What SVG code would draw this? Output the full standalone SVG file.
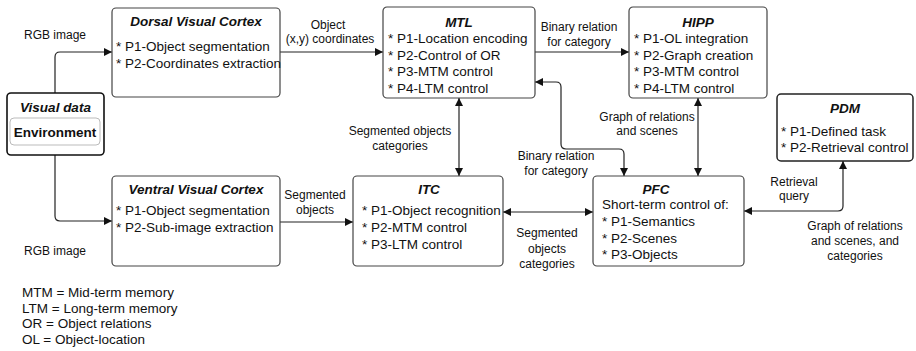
<svg xmlns="http://www.w3.org/2000/svg" width="916" height="351" viewBox="0 0 916 351">
<defs>
<marker id="ah" viewBox="0 0 10 10" refX="10" refY="5" markerWidth="8" markerHeight="8" markerUnits="userSpaceOnUse" orient="auto-start-reverse">
<path d="M0,0 L10,5 L0,10 z" fill="#111"/>
</marker>
<style>
.box{fill:#fff;stroke:#444;stroke-width:1.2}
.t{font-family:"Liberation Sans",Arial,sans-serif;font-size:13.5px;fill:#111}
.h{font-family:"Liberation Sans",Arial,sans-serif;font-size:13.5px;font-weight:bold;font-style:italic;fill:#111;text-anchor:middle}
.l{font-family:"Liberation Sans",Arial,sans-serif;font-size:12px;fill:#111;text-anchor:middle}
.g{font-family:"Liberation Sans",Arial,sans-serif;font-size:13.5px;fill:#111}
.c{fill:none;stroke:#222;stroke-width:1.2}
</style>
</defs>
<rect width="916" height="351" fill="#fff"/>

<g id="connectors">
<path class="c" d="M55,93 V57 Q55,52 60,52 H112" marker-end="url(#ah)"/>
<path class="c" d="M55,155 V216 Q55,221 60,221 H112" marker-end="url(#ah)"/>
<path class="c" d="M280,52 H383" marker-end="url(#ah)"/>
<path class="c" d="M535,52 H629" marker-end="url(#ah)"/>
<path class="c" d="M280,222 H353" marker-end="url(#ah)"/>
<path class="c" d="M459,98 V176" marker-start="url(#ah)" marker-end="url(#ah)"/>
<path class="c" d="M503,212 H593" marker-start="url(#ah)" marker-end="url(#ah)"/>
<path class="c" d="M698,98 V176" marker-start="url(#ah)" marker-end="url(#ah)"/>
<path class="c" d="M535,82 H556 Q561,82 561,87 V144 Q561,149 566,149 H619 Q624,149 624,154 V176" marker-start="url(#ah)" marker-end="url(#ah)"/>
<path class="c" d="M744,211 H838 Q843,211 843,206 V161" marker-start="url(#ah)" marker-end="url(#ah)"/>
<text class="l" x="55" y="39">RGB image</text>
<text class="l" x="55" y="255">RGB image</text>
<text class="l" x="328" y="29">Object</text>
<text class="l" x="330" y="43">(x,y) coordinates</text>
<text class="l" x="579" y="31">Binary relation</text>
<text class="l" x="579" y="46">for category</text>
<text class="l" x="400" y="135">Segmented objects</text>
<text class="l" x="400" y="150">categories</text>
<text class="l" x="647" y="121">Graph of relations</text>
<text class="l" x="647" y="135">and scenes</text>
<text class="l" x="556" y="160">Binary relation</text>
<text class="l" x="556" y="175">for category</text>
<text class="l" x="315" y="199">Segmented</text>
<text class="l" x="315" y="214">objects</text>
<text class="l" x="547" y="237">Segmented</text>
<text class="l" x="547" y="253">objects</text>
<text class="l" x="547" y="268">categories</text>
<text class="l" x="794" y="186">Retrieval</text>
<text class="l" x="794" y="200">query</text>
<text class="l" x="855" y="230">Graph of relations</text>
<text class="l" x="855" y="245">and scenes, and</text>
<text class="l" x="855" y="260">categories</text>
</g>

<g id="visual-data">
<rect x="7" y="93" width="97" height="62" rx="4" fill="#fff" stroke="#111" stroke-width="1.6"/>
<text class="h" x="55.5" y="112">Visual data</text>
<rect x="10" y="118" width="90" height="27" rx="4" fill="#fff" stroke="#bbb" stroke-width="1"/>
<text class="t" x="55" y="137" text-anchor="middle" font-weight="bold">Environment</text>
</g>

<g id="dorsal">
<rect class="box" x="112" y="8" width="168" height="89" rx="4"/>
<text class="h" x="196" y="26">Dorsal Visual Cortex</text>
<text class="t" x="116" y="50.5">* P1-Object segmentation</text>
<text class="t" x="116" y="68">* P2-Coordinates extraction</text>
</g>

<g id="mtl">
<rect class="box" x="383" y="7" width="152" height="91" rx="4"/>
<text class="h" x="459" y="27">MTL</text>
<text class="t" x="388" y="43">* P1-Location encoding</text>
<text class="t" x="388" y="59.5">* P2-Control of OR</text>
<text class="t" x="388" y="76">* P3-MTM control</text>
<text class="t" x="388" y="92.5">* P4-LTM control</text>
</g>

<g id="hipp">
<rect class="box" x="629" y="7" width="138" height="91" rx="4"/>
<text class="h" x="698" y="27">HIPP</text>
<text class="t" x="634" y="43">* P1-OL integration</text>
<text class="t" x="634" y="59.5">* P2-Graph creation</text>
<text class="t" x="634" y="76">* P3-MTM control</text>
<text class="t" x="634" y="92.5">* P4-LTM control</text>
</g>

<g id="pdm">
<rect x="777" y="94" width="136" height="67" rx="4" fill="#fff" stroke="#222" stroke-width="1.5"/>
<text class="h" x="845" y="113">PDM</text>
<text class="t" x="781" y="136">* P1-Defined task</text>
<text class="t" x="781" y="152">* P2-Retrieval control</text>
</g>

<g id="ventral">
<rect class="box" x="112" y="176" width="168" height="90" rx="4"/>
<text class="h" x="196" y="194">Ventral Visual Cortex</text>
<text class="t" x="116" y="215">* P1-Object segmentation</text>
<text class="t" x="116" y="232">* P2-Sub-image extraction</text>
</g>

<g id="itc">
<rect class="box" x="353" y="176" width="150" height="90" rx="4"/>
<text class="h" x="429" y="194">ITC</text>
<text class="t" x="362" y="215">* P1-Object recognition</text>
<text class="t" x="362" y="232">* P2-MTM control</text>
<text class="t" x="362" y="248.5">* P3-LTM control</text>
</g>

<g id="pfc">
<rect class="box" x="593" y="176" width="151" height="90" rx="4"/>
<text class="h" x="656" y="194">PFC</text>
<text class="t" x="602" y="209">Short-term control of:</text>
<text class="t" x="602" y="226">* P1-Semantics</text>
<text class="t" x="602" y="243">* P2-Scenes</text>
<text class="t" x="602" y="259">* P3-Objects</text>
</g>

<g id="legend">
<text class="g" x="22" y="297">MTM = Mid-term memory</text>
<text class="g" x="22" y="312.5">LTM = Long-term memory</text>
<text class="g" x="22" y="328">OR = Object relations</text>
<text class="g" x="22" y="343.5">OL = Object-location</text>
</g>
</svg>
